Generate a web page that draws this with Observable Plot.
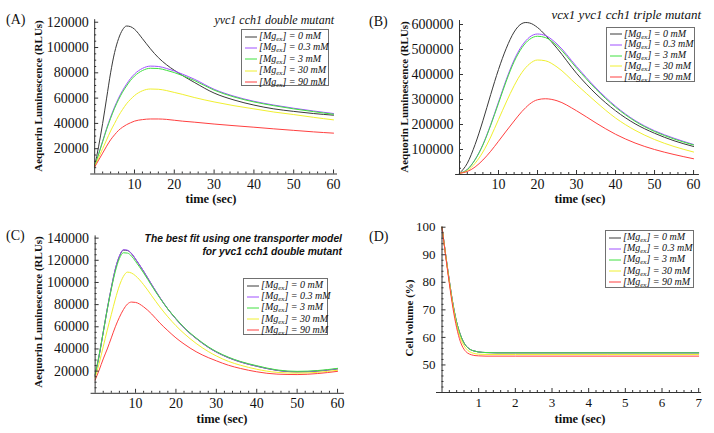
<!DOCTYPE html>
<html><head><meta charset="utf-8">
<script src="https://cdn.jsdelivr.net/npm/d3@7"></script>
<script src="https://cdn.jsdelivr.net/npm/@observablehq/plot@0.6"></script>
<style>
body{margin:0;background:#fff;}
#fig{position:relative;width:714px;height:433px;overflow:hidden;background:#fff;font-family:"Liberation Serif","Times New Roman",serif;color:#111;}
#fig svg text{font-family:"Liberation Serif","Times New Roman",serif;}
.p{position:absolute;}
.lbl{position:absolute;font-size:14px;line-height:14px;}
.title{position:absolute;font-style:italic;font-size:12px;line-height:12px;white-space:nowrap;text-align:right;}
.xl{position:absolute;font-weight:bold;font-size:12.5px;transform:translate(-50%,-50%);white-space:nowrap;}
.yl{position:absolute;font-weight:bold;font-size:11px;transform:translate(-50%,-50%) rotate(-90deg);white-space:nowrap;}
.leg{position:absolute;border:1px solid #707070;background:#fff;box-sizing:border-box;}
.row{position:absolute;left:0;font-style:italic;font-size:10px;white-space:nowrap;display:flex;align-items:center;}
.row sub{font-size:7px;vertical-align:-2px;}
</style>
</head><body><div id="fig"></div>
<script>
// ---------- data ----------
const seriesNames = ["0", "0.3", "3", "30", "90"];
const seriesColors = ["#3a3a3a", "#a050ff", "#40e040", "#f0f030", "#ff4040"];

// Panel A: yvc1 cch1 double mutant
const tA = [0,1,2,3,4,5,6,7,8,9,10,12,14,16,18,20,22,25,30,35,40,45,50,55,60];
const a0   = [6000,22000,40000,60000,80000,96000,107000,114000,117000,116500,114500,107000,99000,92000,86500,82000,78000,72500,64000,58500,54500,51500,49500,47800,46500];
const a03  = [6500,16000,26000,36000,45000,53000,60000,66000,71000,75500,79000,83500,85300,85000,83500,81500,79000,75000,67000,61500,57500,54500,52000,49800,47800];
const a3   = [6500,15800,25500,35300,44000,52000,58800,64700,69600,74000,77400,81800,83600,83400,82000,80200,77900,74000,66300,60900,57000,54000,51500,49300,47200];
const a30  = [6000,13000,20000,27000,34000,40000,46000,51000,55500,59000,62000,65800,67200,67000,66000,64500,63000,60500,57000,54000,51500,49000,47000,44800,42800];
const a90  = [5500,11000,16500,22000,27000,31000,34500,37000,39000,40500,41800,43000,43500,43500,43200,42500,41800,41000,39500,38200,37000,35700,34500,33300,32300];
const xTicksA = [10,20,30,40,50,60];
const yTicksA = [20000,40000,60000,80000,100000,120000];

// Panel B: vcx1 yvc1 cch1 triple mutant
const tB = [0,2,4,6,8,10,12,14,16,17,18,20,22,25,30,35,40,45,50,55,60];
const b0   = [5000,45000,120000,215000,320000,420000,505000,570000,604000,608000,606000,588000,558000,505000,405000,322000,255000,203000,165000,135000,112000];
const b03  = [5000,20000,60000,120000,200000,290000,380000,458000,515000,535000,550000,562000,556000,522000,432000,346000,273000,216000,175000,145000,120000];
const b3   = [5000,20000,59000,118000,197000,285000,374000,451000,507000,527000,541000,553000,548000,515000,426000,341000,269000,213000,172000,142000,118000];
const b30  = [5000,15000,45000,90000,150000,220000,290000,355000,408000,428000,443000,458000,455000,430000,360000,290000,226000,177000,140000,112000,90000];
const b90  = [5000,12000,30000,58000,93000,133000,174000,214000,252000,268000,282000,299000,303000,295000,255000,206000,161000,126000,100000,80000,63000];
const xTicksB = [10,20,30,40,50,60];
const yTicksB = [100000,200000,300000,400000,500000,600000];

// Panel C: best fit, one transporter model
const tC = [0,1,2,3,4,5,6,7,8,9,10,12,14,16,18,20,22,25,28,30,33,36,40,45,50,55,60];
const c0   = [16000,34000,55000,76000,95000,112000,123500,129200,128800,126000,121000,110000,98000,86500,76000,67000,59000,49500,41500,37200,32100,28200,24400,20700,19300,20000,22000];
const c03  = [16000,34200,55300,76300,95300,112300,123800,129500,129100,126200,121200,110100,98100,86600,76100,67100,59100,49600,41600,37300,32200,28300,24500,20800,19400,20100,22100];
const c3   = [17000,35000,55000,75500,94000,110000,121500,126800,126500,123800,119000,108600,97000,86000,76000,67500,59500,50000,42000,37700,32600,28700,24900,21100,19800,20500,22500];
const c30  = [14000,27000,42000,57000,71000,85000,97000,105500,109300,108500,106000,98000,88000,78000,69000,61000,54000,45000,37700,33700,28800,25300,21700,18900,18200,18900,20800];
const c90  = [12000,21000,31000,40000,50000,60000,68500,75500,80500,82300,82000,78000,71500,63500,56500,50000,44500,37500,32200,29300,25300,22400,19400,17300,16900,17800,19800];
const xTicksC = [10,20,30,40,50,60];
const yTicksC = [20000,40000,60000,80000,100000,120000,140000];

// Panel D: cell volume
const tD = [0,0.1,0.2,0.3,0.4,0.5,0.6,0.7,0.8,0.9,1.0,1.2,1.5,2,7];
const d0   = [100,90,80.5,72,65.5,61,58,56.3,55.4,55,54.7,54.5,54.4,54.4,54.4];
const d03  = [100,90,80.5,72,65.5,61,58,56.3,55.4,55,54.7,54.5,54.4,54.4,54.4];
const d3   = [100,90,80.5,72,65.5,61,58,56.3,55.4,55,54.7,54.5,54.4,54.4,54.4];
const d30  = [100,89.8,80,71.3,64.5,59.8,57,55.3,54.5,54.1,53.9,53.8,53.8,53.8,53.8];
const d90  = [100,89.5,79.5,70.5,63.5,58.5,55.7,54.3,53.7,53.4,53.3,53.2,53.2,53.2,53.2];
const xTicksD = [1,2,3,4,5,6,7];
const yTicksD = [50,60,70,80,90,100];

// ---------- drawing ----------
const fig = document.getElementById("fig");
const axisColor = "#333";

function makePanel(cfg) {
  const rows = [];
  cfg.series.forEach((vals, k) => vals.forEach((v, i) => rows.push({t: cfg.t[i], v, s: seriesNames[k]})));
  const y0 = cfg.yDomain[0];
  const plot = Plot.plot({
    width: cfg.w, height: cfg.h,
    marginLeft: cfg.m[3], marginRight: cfg.m[1], marginTop: cfg.m[0], marginBottom: cfg.m[2],
    x: {domain: cfg.xDomain},
    y: {domain: cfg.yDomain},
    color: {domain: seriesNames, range: seriesColors},
    style: {fontFamily: "'Liberation Serif', 'Times New Roman', serif", fontSize: cfg.tickFont + "px", background: "transparent", color: "#111", overflow: "visible"},
    marks: [
      Plot.line(rows, {x: "t", y: "v", stroke: "s", z: "s", strokeWidth: 1, curve: "monotone-x"}),
      Plot.ruleY([y0], {stroke: axisColor, strokeWidth: 1}),
      Plot.ruleX([0], {y1: cfg.yDomain[0], y2: cfg.yDomain[1], stroke: axisColor, strokeWidth: 1}),
      Plot.ruleX(cfg.xTicks, {x: d => d, y1: y0, y2: y0, insetTop: 0, insetBottom: 4, stroke: axisColor}),
      Plot.ruleX(cfg.xMinor, {x: d => d, y1: y0, y2: y0, insetTop: 0, insetBottom: 2, stroke: axisColor}),
      Plot.ruleY(cfg.yTicks, {y: d => d, x1: 0, x2: 0, insetLeft: 0, insetRight: -4, stroke: axisColor}),
      Plot.ruleY(cfg.yMinor, {y: d => d, x1: 0, x2: 0, insetLeft: 0, insetRight: -2, stroke: axisColor}),
      Plot.axisX(cfg.xTicks, {tickSize: 0, tickPadding: cfg.xPad, tickFormat: d => String(d), label: null}),
      Plot.axisY(cfg.yTicks, {tickSize: 0, tickPadding: cfg.yPad, tickFormat: d => String(d), label: null})
    ]
  });
  const wrap = document.createElement("div");
  wrap.className = "p";
  wrap.style.left = cfg.left + "px";
  wrap.style.top = cfg.top + "px";
  wrap.appendChild(plot);
  fig.appendChild(wrap);
}

function addText(cls, html, styles) {
  const el = document.createElement("div");
  el.className = cls;
  el.innerHTML = html;
  Object.assign(el.style, styles);
  fig.appendChild(el);
  return el;
}

function addLegend(left, top, w, h, firstRow, step) {
  const box = addText("leg", "", {left: left + "px", top: top + "px", width: w + "px", height: h + "px"});
  seriesNames.forEach((name, k) => {
    const r = document.createElement("div");
    r.className = "row";
    r.style.top = (firstRow + k * step - 6) + "px";
    r.style.height = "12px";
    r.innerHTML = `<svg width="17" height="12" style="flex:none"><line x1="3" x2="15" y1="6" y2="6" stroke="${seriesColors[k]}" stroke-width="1"/></svg><span>[Mg<sub>ex</sub>] = ${name} mM</span>`;
    box.appendChild(r);
  });
}

function minor(lo, hi, step, majors) {
  const out = [];
  const n = Math.round((hi - lo) / step);
  for (let i = 0; i <= n; i++) {
    const v = +(lo + i * step).toFixed(4);
    if (!majors.some(m => Math.abs(m - v) < 1e-6)) out.push(v);
  }
  return out;
}

// A
makePanel({left: 0, top: 0, w: 357, h: 216, m: [19.2, 20, 42.5, 90.2],
  t: tA, series: [a0, a03, a3, a30, a90], xDomain: [-1, 61], yDomain: [0, 122000],
  xTicks: xTicksA, yTicks: yTicksA, xMinor: minor(2, 60, 2, xTicksA), yMinor: minor(5000, 120000, 5000, yTicksA),
  tickFont: 14, xPad: 5, yPad: 2});
// B
makePanel({left: 357, top: 0, w: 357, h: 216, m: [20, 15.1, 42, 98.1],
  t: tB, series: [b0, b03, b3, b30, b90], xDomain: [-1, 61.5], yDomain: [0, 616000],
  xTicks: xTicksB, yTicks: yTicksB, xMinor: minor(2, 60, 2, xTicksB), yMinor: minor(25000, 600000, 25000, yTicksB),
  tickFont: 14, xPad: 5, yPad: 2});
// C
makePanel({left: 0, top: 216, w: 357, h: 217, m: [19.4, 13.1, 40.2, 90.6],
  t: tC, series: [c0, c03, c3, c30, c90], xDomain: [-1, 61.7], yDomain: [0, 142000],
  xTicks: xTicksC, yTicks: yTicksC, xMinor: minor(2, 60, 2, xTicksC), yMinor: minor(5000, 140000, 5000, yTicksC),
  tickFont: 14, xPad: 5, yPad: 2});
// D
makePanel({left: 357, top: 216, w: 357, h: 217, m: [10.7, 12.9, 41, 79],
  t: tD, series: [d0, d03, d3, d30, d90], xDomain: [-0.15, 7.08], yDomain: [40, 100],
  xTicks: xTicksD, yTicks: yTicksD, xMinor: minor(0.2, 7, 0.2, xTicksD), yMinor: minor(42, 100, 2, yTicksD),
  tickFont: 13, xPad: 5, yPad: 1});

// panel letters
addText("lbl", "(A)", {left: "6px", top: "13px"});
addText("lbl", "(B)", {left: "369px", top: "15px"});
addText("lbl", "(C)", {left: "6px", top: "229px"});
addText("lbl", "(D)", {left: "369px", top: "230px"});

// titles
addText("title", "yvc1 cch1 double mutant", {right: (714 - 334) + "px", top: "14px"});
addText("title", "vcx1 yvc1 cch1 triple mutant", {right: (714 - 701) + "px", top: "8px", fontSize: "13px", lineHeight: "13px"});
addText("title", "The best fit using one transporter model<br>for yvc1 cch1 double mutant",
  {right: (714 - 342) + "px", top: "232px", fontFamily: "'Liberation Sans', Arial, sans-serif", fontWeight: "bold", fontSize: "10.3px", lineHeight: "13px"});

// axis labels
addText("xl", "time (sec)", {left: "211px", top: "199px"});
addText("xl", "time (sec)", {left: "580px", top: "199px"});
addText("xl", "time (sec)", {left: "222px", top: "419px"});
addText("xl", "time (sec)", {left: "580px", top: "419px"});
addText("yl", "Aequorin Luminescence (RLUs)", {left: "38px", top: "96px"});
addText("yl", "Aequorin Luminescence (RLUs)", {left: "404px", top: "97px"});
addText("yl", "Aequorin Luminescence (RLUs)", {left: "38px", top: "312px"});
addText("yl", "Cell volume (%)", {left: "409px", top: "318px"});

// legends
addLegend(241, 29, 88, 57, 6.5, 11.4);
addLegend(606, 27, 89, 55, 6, 10.8);
addLegend(243, 278, 85, 57, 6.5, 11.2);
addLegend(605, 230, 89, 58, 6.5, 11.2);
</script></body></html>
